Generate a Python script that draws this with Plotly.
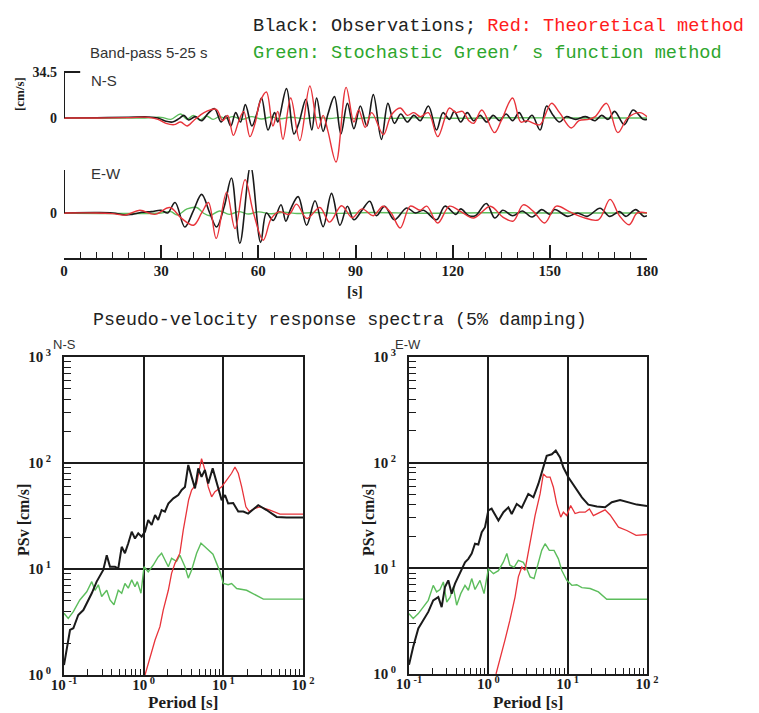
import plotly.graph_objects as go

# ---------------- band-pass velocity waveforms (cm/s) ----------------
NS_OBS_T = [0, 10, 20, 26, 29, 31.5, 33.5, 35.5, 37, 38.5, 40.5, 42.5, 44.5, 46.5, 48.5, 50, 51.5, 53, 54.5, 56,
            58, 59.5, 61, 63, 65, 66, 68.7, 71, 72.5, 74.7, 76.5, 78, 80, 81.5, 83.5, 85.5, 87.5, 89.5, 91.5,
            93.5, 95.5, 98, 100, 102, 104, 106, 108, 110, 112.5, 115, 117, 119, 120.5, 122.5, 124.5, 126.5,
            128.5, 130.5, 132.5, 134.5, 136.5, 138.5, 140.5, 142.5, 144.5, 147, 149, 151, 153, 155, 158, 161,
            164, 166, 168, 170, 173, 175.7, 178.8, 180]
NS_OBS_V = [0, 0.2, 0.6, 0.8, 0, -2.5, -3, -0.5, 2, -1.5, 1, -2, 3.5, 7, -3, 1.5, -6, 4, -3, 10,
            -6, 3, 15, -9, 4, -3, 22, -12, -4, 14, -9, 15, -10, 3, 16, -12, 11, -8, 9,
            -6, 17.5, -16, 11, -4, 3, -3, 2, -2, 9, -9, 4, -1, 5, -3, 4, -2,
            2, -3, 2, -2, 3, -2, 4, -3, 2, -9, 9, 2, -3, 1, -1, 1,
            -2, 2, -1, 5, -5, 6, -1, -1]

NS_THEO_T = [0, 10, 20, 26, 29, 31.5, 34, 36, 38, 40, 42, 44, 47, 49, 50.5, 52.3, 54, 55.5, 57.4, 59, 60.5,
             62.5, 64.5, 66, 67.6, 70, 72.8, 75.9, 78.5, 80, 81.5, 84, 87.1, 89.5, 91, 93, 95, 98.6, 101,
             103.8, 106, 108, 110, 112.5, 115.4, 119, 121, 123, 125, 126.5, 129, 132.9, 135, 138.5, 141, 143,
             145, 147, 150.5, 153, 156.6, 159, 162, 164, 167.5, 171, 174, 177.8, 180]
NS_THEO_V = [0, 0, 0.3, 0.5, -1, -4, -5, -3, -6, -2, 2, 5, 6.5, -2, 2, -13, -2, 5, -14, -4, 12,
             19.5, -6, 5, -16, 15, -17, 24, -8, 2, -10, -33, 23, -3, 6, -7, 4, -12.5, 2,
             7.5, 2, 4, 1, 4, -14, 7.5, 4, 5, -2, -4, 6, -11, -2, 15, -3, -2,
             -4, -5, 11, 4, -7.5, -2, -1, 1, 11, -11, 0, 4, 1]

NS_SGF_T = [0, 25, 30, 33, 36, 38, 40, 42, 44, 46, 48, 50, 52, 55, 58, 61, 64, 67, 70, 74, 78, 82, 86, 90,
            95, 100, 110, 120, 140, 160, 180]
NS_SGF_V = [0, 0, 0.5, -1, 3, -1, 2, -1.5, 1.5, -1, 1, -0.5, 1, -1, 1, -0.8, 0.8, -0.6, 0.6, -0.5, 0.5,
            -0.4, 0.5, -0.4, 0.4, -0.3, 0.3, -0.2, 0.2, 0, 0]

EW_OBS_T = [0, 10, 15, 19, 21, 24, 27, 30, 32, 34.3, 37.3, 40, 42.5, 45, 47.1, 49.5, 51.7, 54.3, 57.6, 60.7,
            62.5, 64.6, 67, 68.5, 70, 72.3, 74.9, 77.5, 80, 82.6, 85.2, 87.5, 89.5, 92, 94.4, 96.5, 99, 102,
            105.8, 108.5, 111, 115, 117.6, 121, 122.5, 125, 127, 130.4, 133, 135.5, 138.5, 141.5, 144.5,
            147.5, 150, 151.5, 155.5, 158.5, 161.5, 165.5, 168.5, 171.5, 173.5, 176.5, 179, 180]
EW_OBS_V = [0, 0.3, 0, -1.5, -1, 0.5, 1, 2, 0, 7.7, -10.3, 2, 13.7, 0, -10.3, 5, 25.7, -22.3, 34.5, -21.6,
            0, -5.5, 6, -6, 3, 12, -9, 9, -10, 14.4, -9, 5, -5, 2, 8.6, -2, 5, -5,
            3.7, 0, 2, -5, 5, -1, 3, -2, -2, 7, -3.7, 2, -2, 1.5, -3,
            2.5, -1, 2.5, -2.5, 0, -2.5, 3.5, -2.5, 1, -2.5, 2.5, -2.5, -2]

EW_THEO_T = [0, 10, 15, 19, 23.4, 28, 32.7, 36.3, 40, 42.5, 44.6, 47, 50.2, 52.8, 55.9, 58.5, 61.5, 64, 66.5,
             69.5, 71.8, 75, 79, 82, 85.7, 89, 92, 95.5, 98.5, 101, 103.8, 106.9, 110, 112, 115.4, 119,
             122.5, 126.5, 131.6, 135.5, 138.7, 141.8, 145, 148.4, 152, 156, 160, 165, 168.6, 171.5, 174.5,
             177, 180]
EW_THEO_V = [0, 0, -0.5, -1.5, 2, -1, 4, -4, -9, 0, 7.7, -18.7, 15.3, -11.5, 24.5, 0, -20, -4, 1,
             -1, 6.5, -4, 4, -6.7, 5.3, -3.5, 3, -2, 5, 0, -11, 5, 2, 5, -7.4, 5,
             1, -3.7, 5, -3, -6, 6, 1, -7.4, 5, 1, -3, -5, 10, -2, -8.6,
             0, 0]

EW_SGF_T = [0, 30, 33, 35, 38, 41, 43, 45, 48, 51, 54, 57, 60, 64, 68, 72, 77, 84, 95, 110, 130, 150, 180]
EW_SGF_V = [0, 0, 1, -1.5, 3, 4, 0, -2, 1.5, -1, 1, -0.8, 0.8, -0.6, 0.5, -0.4, 0.4, -0.3, 0.3, -0.2, 0.2,
            0, 0]

SCALE_AMP = 34.5
TIME_TICKS = [0, 30, 60, 90, 120, 150, 180]

# ---------------- pseudo-velocity response spectra (5 % damping) ----------------
NS_OBS_P = [0.100, 0.119, 0.131, 0.151, 0.175, 0.193, 0.223, 0.257, 0.283, 0.311, 0.344, 0.378, 0.437, 0.480,
            0.530, 0.582, 0.641, 0.708, 0.778, 0.855, 0.944, 1.04, 1.14, 1.26, 1.39, 1.52, 1.68, 1.85, 2.04,
            2.36, 2.72, 3.00, 3.30, 3.63, 4.00, 4.41, 4.84, 5.33, 5.87, 6.46, 7.35, 8.24, 9.53, 10.5, 11.5,
            13.3, 15.4, 17.8, 20.5, 27.4, 34.9, 46.7, 62.2, 100]
NS_OBS_S = [1.24, 2.66, 2.76, 3.68, 4.1, 4.74, 5.9, 7.6, 8.8, 9.8, 13.5, 10.5, 10.5, 10.1,
            16.2, 14.1, 17.5, 22.5, 19.4, 21.7, 20.2, 22.5, 29, 26, 32.3, 29, 36, 34.8, 41.5,
            46.4, 49.9, 55.6, 59.5, 95.7, 74, 57.6, 89, 74, 86, 64, 89, 64, 44.5, 49.9, 41.5,
            42, 34.8, 34.8, 33.3, 40, 36, 31, 30.6, 30.6]

NS_THEO_P = [1.04, 1.20, 1.39, 1.60, 1.76, 2.04, 2.24, 2.47, 2.85, 3.14, 3.47, 3.67, 4.00, 4.62, 5.33, 5.87,
             6.46, 7.13, 7.85, 9.53, 11.0, 12.7, 14.0, 15.4, 17.0, 19.2, 21.2, 24.9, 28.8, 38.5, 51.3, 100]
NS_THEO_S = [1.0, 1.49, 2.14, 2.86, 4.1, 6.3, 9.1, 11.3, 14.1, 23.3, 36, 45, 55.6, 64, 110, 86,
             59.5, 48, 53.6, 59.5, 69, 80, 91.8, 80, 59.5, 38.6, 34.8, 37.3, 38.6, 36, 33, 33]

NS_SGF_P = [0.100, 0.113, 0.131, 0.158, 0.193, 0.223, 0.245, 0.270, 0.297, 0.344, 0.378, 0.424, 0.480, 0.530,
            0.582, 0.641, 0.708, 0.778, 0.832, 0.925, 1.01, 1.14, 1.32, 1.52, 1.68, 1.85, 2.04, 2.24, 2.59,
            2.85, 3.30, 3.63, 4.00, 4.62, 5.24, 5.87, 6.79, 7.41, 8.24, 9.08, 10.0, 11.5, 12.7, 14.7, 19.6,
            24.9, 31.8, 100]
NS_SGF_S = [3.82, 3.42, 3.96, 5.1, 6.1, 7.6, 6.3, 7.1, 5.5, 6.3, 5.1, 4.6, 6.3, 5.9,
            7.3, 6.6, 7.9, 6.8, 7.6, 5.9, 10.5, 9.4, 10.9, 13, 14.1, 12.2, 10.5, 12.6, 11.8,
            13.5, 10.5, 8.2, 9.8, 14.1, 17.5, 16.2, 14.6, 13.8, 11.3, 9.4, 7.3, 7.1, 7.3, 6.55, 6.3,
            5.7, 5.2, 5.2]

EW_OBS_P = [0.100, 0.113, 0.131, 0.151, 0.175, 0.202, 0.234, 0.258, 0.284, 0.313, 0.345, 0.380, 0.419, 0.461,
            0.508, 0.560, 0.617, 0.679, 0.748, 0.826, 0.908, 1.0, 1.10, 1.34, 1.55, 1.79, 1.97, 2.28, 2.64,
            3.19, 3.70, 4.28, 4.94, 5.44, 6.31, 7.08, 8.02, 8.83, 10.2, 12.4, 15.1, 18.2, 23.3, 29.6, 36.0,
            45.8, 57.0, 74.3, 100]
EW_OBS_S = [1.22, 1.81, 2.7, 3.23, 3.87, 4.98, 5.35, 4.3, 6.65, 7.7, 5.76, 7.17, 8.3, 9.6,
            11.4, 12.3, 13.8, 17.1, 16.8, 22, 24.5, 35.4, 36.7, 28.4, 34, 37.8, 32.7, 40.7, 37.5,
            50.6, 47, 63.2, 90, 116, 120, 130, 112, 90, 72.8, 58.5, 47, 40.1, 38.4, 37.8, 42.2,
            44.4, 42.5, 40.1, 38.9]

EW_THEO_P = [1.25, 1.40, 1.62, 1.87, 2.17, 2.39, 2.64, 2.90, 3.19, 3.52, 3.88, 4.49, 4.94, 5.44, 6.00, 6.61,
             7.28, 8.18, 8.83, 9.72, 10.9, 12.4, 14.1, 16.6, 18.8, 21.1, 25.1, 29.6, 34.3, 43.7, 55.6, 72.9,
             100]
EW_THEO_S = [1.0, 1.36, 2.09, 3.23, 5.35, 8.3, 10.3, 9.6, 13.8, 21.2, 31.6, 50.6, 78.2, 73, 73, 58.5,
             40.7, 30.5, 34, 31.6, 39.3, 33, 34, 34, 36.5, 31.6, 34, 35.8, 32, 24.5, 22.8, 20.5,
             20.9]

EW_SGF_P = [0.100, 0.113, 0.131, 0.151, 0.175, 0.202, 0.223, 0.246, 0.271, 0.299, 0.329, 0.362, 0.399, 0.449,
            0.508, 0.560, 0.617, 0.679, 0.785, 0.883, 1.0, 1.16, 1.34, 1.55, 1.71, 1.87, 2.11, 2.39, 2.76,
            3.05, 3.36, 3.77, 4.28, 4.71, 5.19, 5.87, 6.73, 7.64, 8.41, 9.75, 11.3, 13.0, 15.1, 19.2, 24.4,
            31.1, 100]
EW_SGF_S = [3.73, 3.35, 3.73, 4.3, 4.98, 6.9, 5.98, 6.3, 7.43, 4.8, 5.3, 6.65, 4.48, 5.76,
            6.9, 6.2, 8.0, 6.3, 7.7, 5.76, 9.9, 8.9, 9.5, 11.5, 13.8, 10.7, 10.2, 11.9, 11.4,
            9.9, 8.3, 8.0, 11.1, 14.8, 17.1, 14.8, 14.8, 12.3, 9.6, 7.7, 6.9, 7.0, 6.56, 6.44, 5.98,
            5.1, 5.1]

PERIOD_TICKS = [0.1, 1, 10, 100]
PERIOD_LABELS = ["10<sup> -1</sup>", "10<sup> 0</sup>", "10<sup> 1</sup>", "10<sup> 2</sup>"]
PSV_TICKS = [1, 10, 100, 1000]
PSV_LABELS = ["10<sup> 0</sup>", "10<sup> 1</sup>", "10<sup> 2</sup>", "10<sup> 3</sup>"]

# ---------------- styling ----------------
W, H = 759, 713
INK = "#1c1c1c"
C_OBS = "#1a1a1a"
C_THEO = "#e8333a"
C_SGF = "#5cbd5c"
SERIF = "Liberation Serif"
MONO = "Liberation Mono"
SANS = "Liberation Sans"


def fx(p):
    return p / W


def fy(p):
    return 1 - p / H


fig = go.Figure()

# waveforms: green under black under red
for yref, (tg, vg), (tb, vb), (tr, vr) in [
    ("y", (NS_SGF_T, NS_SGF_V), (NS_OBS_T, NS_OBS_V), (NS_THEO_T, NS_THEO_V)),
    ("y2", (EW_SGF_T, EW_SGF_V), (EW_OBS_T, EW_OBS_V), (EW_THEO_T, EW_THEO_V)),
]:
    fig.add_trace(go.Scatter(x=tg, y=vg, xaxis="x", yaxis=yref, mode="lines",
                             line=dict(color=C_SGF, width=1.4, shape="spline", smoothing=1)))
    fig.add_trace(go.Scatter(x=tb, y=vb, xaxis="x", yaxis=yref, mode="lines",
                             line=dict(color=C_OBS, width=1.6, shape="spline", smoothing=1)))
    fig.add_trace(go.Scatter(x=tr, y=vr, xaxis="x", yaxis=yref, mode="lines",
                             line=dict(color=C_THEO, width=1.4, shape="spline", smoothing=1)))

# response spectra: green, red, then black on top
for xa, ya, (pg, sg), (pr, sr), (pb, sb) in [
    ("x2", "y3", (NS_SGF_P, NS_SGF_S), (NS_THEO_P, NS_THEO_S), (NS_OBS_P, NS_OBS_S)),
    ("x3", "y4", (EW_SGF_P, EW_SGF_S), (EW_THEO_P, EW_THEO_S), (EW_OBS_P, EW_OBS_S)),
]:
    fig.add_trace(go.Scatter(x=pg, y=sg, xaxis=xa, yaxis=ya, mode="lines",
                             line=dict(color=C_SGF, width=1.4)))
    fig.add_trace(go.Scatter(x=pr, y=sr, xaxis=xa, yaxis=ya, mode="lines",
                             line=dict(color=C_THEO, width=1.3)))
    fig.add_trace(go.Scatter(x=pb, y=sb, xaxis=xa, yaxis=ya, mode="lines",
                             line=dict(color=C_OBS, width=2)))

bold_serif = dict(family=SERIF, size=15, color=INK, weight="bold")

# amplitude scale bars drawn in data units
shapes = []
for yref in ("y", "y2"):
    shapes.append(dict(type="line", xref="x", yref=yref, x0=0, x1=0, y0=0, y1=SCALE_AMP,
                       line=dict(color=INK, width=2)))
    shapes.append(dict(type="line", xref="x", yref=yref, x0=0, x1=5, y0=SCALE_AMP, y1=SCALE_AMP,
                       line=dict(color=INK, width=2)))

wave_y = dict(showgrid=False, zeroline=False, showline=False, ticks="", automargin=False,
              tickmode="array", tickvals=[0, SCALE_AMP], ticktext=["0", "34.5"],
              tickfont=dict(family=SERIF, size=14, color=INK, weight="bold"), ticklabelstandoff=6)

minor_p = [m * 10 ** e for e in (-1, 0, 1) for m in range(2, 10)]
minor_s = [m * 10 ** e for e in (0, 1, 2) for m in range(2, 10)]


def spec_x(dom, anchor):
    return dict(domain=dom, anchor=anchor, type="log", range=[-1, 2], automargin=False,
                tickmode="array", tickvals=PERIOD_TICKS, ticktext=PERIOD_LABELS,
                showgrid=True, gridcolor=INK, gridwidth=2, zeroline=False,
                showline=True, mirror=True, linecolor=INK, linewidth=2,
                ticks="inside", ticklen=8, tickwidth=1.5, tickcolor=INK,
                minor=dict(tickmode="array", tickvals=minor_p, ticks="inside", ticklen=6,
                           tickwidth=1.2, tickcolor=INK, showgrid=False),
                tickfont=dict(family=SERIF, size=15, color=INK, weight="bold"), ticklabelstandoff=-5)


def spec_y(dom, anchor):
    return dict(domain=dom, anchor=anchor, type="log", range=[0, 3], automargin=False,
                tickmode="array", tickvals=PSV_TICKS, ticktext=PSV_LABELS,
                showgrid=True, gridcolor=INK, gridwidth=2, zeroline=False,
                showline=True, mirror=True, linecolor=INK, linewidth=2,
                ticks="inside", ticklen=8, tickwidth=1.5, tickcolor=INK,
                minor=dict(tickmode="array", tickvals=minor_s, ticks="inside", ticklen=7,
                           tickwidth=1.2, tickcolor=INK, showgrid=False),
                tickfont=dict(family=SERIF, size=15, color=INK, weight="bold"), ticklabelstandoff=8)


fig.update_layout(
    width=W, height=H, margin=dict(l=0, r=0, t=0, b=0, autoexpand=False),
    paper_bgcolor="white", plot_bgcolor="white", showlegend=False,
    xaxis=dict(domain=[fx(64), fx(647)], anchor="y2", range=[0, 180], automargin=False,
               tickmode="array", tickvals=TIME_TICKS,
               showgrid=False, zeroline=False, showline=True, linecolor=INK, linewidth=2,
               ticks="inside", ticklen=13, tickwidth=2, tickcolor=INK,
               minor=dict(dtick=5, ticks="inside", ticklen=6, tickwidth=1.3, tickcolor=INK),
               tickfont=dict(family=SERIF, size=15, color=INK, weight="bold"), ticklabelstandoff=-2),
    yaxis=dict(domain=[fy(170), fy(66)], anchor="x", range=[-39, 39], **wave_y),
    yaxis2=dict(domain=[fy(258), fy(170)], anchor="x", range=[-33.1, 31.6], **wave_y),
    xaxis2=spec_x([fx(64), fx(303)], "y3"),
    yaxis3=spec_y([fy(675), fy(357)], "x2"),
    xaxis3=spec_x([fx(409), fx(647)], "y4"),
    yaxis4=spec_y([fy(674), fy(357)], "x3"),
    shapes=shapes,
)


def note(text, x, y, font, xanchor="left", angle=0):
    fig.add_annotation(text=text, x=fx(x), y=fy(y), xref="paper", yref="paper",
                       xanchor=xanchor, yanchor="middle", showarrow=False,
                       font=font, textangle=angle)


mono = dict(family=MONO, size=18.6, color="#222222")
note('Black: Observations; <span style="color:#ff1c1c">Red: Theoretical method</span>', 251, 27, mono)
note('<span style="color:#2ea62e">Green: Stochastic Green’ s function method</span>', 251, 53, mono)
note("Band-pass 5-25 s", 88, 52, dict(family=SANS, size=15, color="#333333"))
note("N-S", 89, 80, dict(family=SANS, size=15, color="#333333"))
note("E-W", 89, 174, dict(family=SANS, size=15, color="#333333"))
note("[cm/s]", 20, 94, dict(family=SERIF, size=13, color=INK, weight="bold"), xanchor="center", angle=-90)
note("[s]", 355, 291, bold_serif, xanchor="center")
note("Pseudo-velocity response spectra (5% damping)", 340, 320, dict(family=MONO, size=18.3, color="#222222"),
     xanchor="center")
note("N-S", 51, 344, dict(family=SANS, size=13, color="#333333"))
note("E-W", 393, 344, dict(family=SANS, size=13, color="#333333"))
note("Period [s]", 183, 702, dict(family=SERIF, size=17, color=INK, weight="bold"), xanchor="center")
note("Period [s]", 528, 702, dict(family=SERIF, size=17, color=INK, weight="bold"), xanchor="center")
note("PSv [cm/s]", 23, 520, dict(family=SERIF, size=16, color=INK, weight="bold"), xanchor="center", angle=-90)
note("PSv [cm/s]", 368, 520, dict(family=SERIF, size=16, color=INK, weight="bold"), xanchor="center", angle=-90)

fig.write_html("out.html")
